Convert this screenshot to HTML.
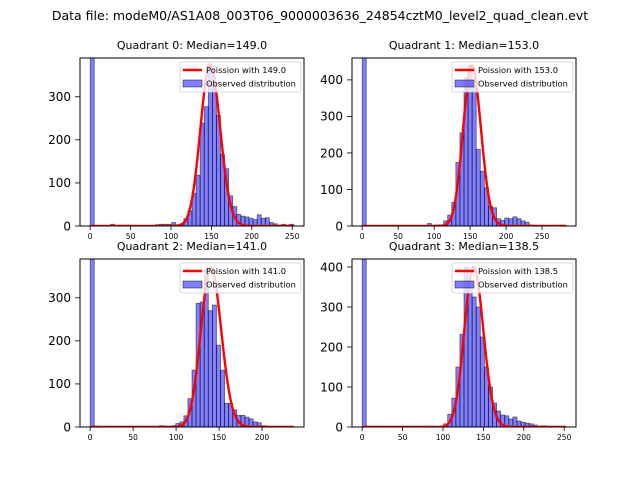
<!DOCTYPE html>
<html><head><meta charset="utf-8"><style>
body{margin:0;background:#fff;font-family:"Liberation Sans","DejaVu Sans",sans-serif}
svg text{font-family:"DejaVu Sans","Liberation Sans",sans-serif}
</style></head><body>
<svg id="fig" width="640" height="480" viewBox="0 0 640 480">
<text x="320" y="20" text-anchor="middle" font-size="12.5">Data file: modeM0/AS1A08_003T06_9000003636_24854cztM0_level2_quad_clean.evt</text>
</svg>
<script>
const quadNames=["Quadrant 0","Quadrant 1","Quadrant 2","Quadrant 3"];
const medians=[149.0,153.0,141.0,138.5];
const xMax=[252,283,237,252];
const yMax=[390,460,390,420];
const totals=[2277,2410,2323,2341];
const xTicks0=[0,50,100,150,200,250];
const xTicks1=[0,50,100,150,200,250];
const xTicks2=[0,50,100,150,200];
const xTicks3=[0,50,100,150,200,250];
const yTicks0=[0,100,200,300];
const yTicks1=[0,100,200,300,400];
const yTicks2=[0,100,200,300];
const yTicks3=[0,100,200,300,400];
const counts0=[2000,0,0,0,0,4,0,2,0,2,0,0,0,0,0,0,3,4,4,4,8,3,5,17,35,76,118,239,277,372,330,257,166,133,70,45,27,23,21,18,15,26,18,19,8,5,2,4,2,4];
const counts1=[2000,0,0,0,0,0,0,0,0,0,0,0,0,0,0,0,7,2,3,3,14,30,65,174,255,407,440,380,210,150,105,55,50,20,15,22,20,25,20,14,10,3,2,1,2,1,1,2,1,2];
const counts2=[2000,2,0,0,0,0,0,0,0,0,0,0,0,0,0,0,0,3,2,0,3,8,12,26,66,132,287,290,365,270,283,190,132,55,55,40,27,27,23,19,12,10,3,2,1,1,0,1,0,1];
const counts3=[2000,0,0,0,0,0,0,0,0,0,0,0,0,0,0,0,2,0,0,0,8,32,72,150,232,400,350,325,300,225,150,100,60,40,30,28,20,25,15,12,10,8,5,2,3,0,1,0,1,1];
const allCounts=[counts0,counts1,counts2,counts3];
const allX=[xTicks0,xTicks1,xTicks2,xTicks3];
const allY=[yTicks0,yTicks1,yTicks2,yTicks3];
const NS="http://www.w3.org/2000/svg";
const svg=document.getElementById('fig');
const boxes=[[80,58],[352,58],[80,259],[352,259]];
const W=224,H=168;
function mk(t,a,p){const e=document.createElementNS(NS,t);for(const k in a)e.setAttribute(k,a[k]);(p||svg).appendChild(e);return e;}
function lnPois(k,mu){
  if(k<=0)return -mu;
  const lg=k*Math.log(k)-k+0.5*Math.log(2*Math.PI*k)+1/(12*k);
  return k*Math.log(mu)-mu-lg;}
for(let q=0;q<4;q++){
  const [x0,y0]=boxes[q];
  const g=mk('g',{});
  
  
  const xmin=-xMax[q]*0.05, xmaxv=xMax[q]*1.05;
  const sx=v=>x0+(v-xmin)/(xmaxv-xmin)*W;
  const sy=v=>y0+H-(v/yMax[q])*H;
  const cp=mk('clipPath',{id:'c'+q},g);
  mk('rect',{x:x0,y:y0,width:W,height:H},cp);
  const bars=mk('g',{'clip-path':'url(#c'+q+')'},g);
  
  
  const w=xMax[q]/50, c=allCounts[q];
  for(let i=0;i<c.length;i++){
    if(c[i]<=0)continue;
    const r=mk('rect',{x:sx(i*w),y:sy(c[i]),width:sx((i+1)*w)-sx(i*w),height:sy(0)-sy(c[i]),fill:'rgba(0,0,255,0.5)',stroke:'rgba(0,0,0,0.55)','stroke-width':0.8},bars);
    
    
  }
  let d='';
  for(let k=0;k<=xMax[q];k+=1){
    const v=totals[q]*w*Math.exp(lnPois(k,medians[q]));
    d+=(k?'L':'M')+sx(k).toFixed(2)+','+sy(v).toFixed(2);
  }
  const cv=mk('path',{d:d,fill:'none',stroke:'#ff0000','stroke-width':2.4},bars);
  
  
  const fr=mk('rect',{x:x0,y:y0,width:W,height:H,fill:'none',stroke:'#000','stroke-width':1},g);
  
  
  for(const t of allX[q]){
    mk('line',{x1:sx(t),x2:sx(t),y1:y0+H,y2:y0+H+4,stroke:'#000','stroke-width':0.8},g);
    const tx=mk('text',{x:sx(t),y:y0+H+13,'text-anchor':'middle','font-size':7.5},g);
    tx.textContent=t;
    
    
  }
  for(const t of allY[q]){
    mk('line',{x1:x0-5,x2:x0,y1:sy(t),y2:sy(t),stroke:'#000','stroke-width':0.8},g);
    const tx=mk('text',{x:x0-9,y:sy(t)+4.3,'text-anchor':'end','font-size':12},g);
    tx.textContent=t;
    
    
  }
  const ti=mk('text',{x:x0+W/2,y:y0-9,'text-anchor':'middle','font-size':11},g);
  ti.textContent=quadNames[q]+': Median='+medians[q].toFixed(1);
  
  
  const lg=mk('g',{},g);
  
  
  const lx=x0+W-124, ly=y0+4;
  mk('rect',{x:lx,y:ly,width:121,height:30,fill:'rgba(255,255,255,0.8)',stroke:'#ccc','stroke-width':0.8,rx:2},lg);
  mk('line',{x1:lx+3,x2:lx+22,y1:ly+8,y2:ly+8,stroke:'#ff0000','stroke-width':2.4},lg);
  const t1=mk('text',{x:lx+26,y:ly+11,'font-size':8.3},lg);
  t1.textContent='Poission with '+medians[q].toFixed(1);
  
  
  mk('rect',{x:lx+3,y:ly+18,width:19,height:7,fill:'rgba(0,0,255,0.5)',stroke:'rgba(0,0,0,0.55)','stroke-width':0.8},lg);
  const t2=mk('text',{x:lx+26,y:ly+24.5,'font-size':8.3},lg);
  t2.textContent='Observed distribution';
  
  
}
</script>
</body></html>
